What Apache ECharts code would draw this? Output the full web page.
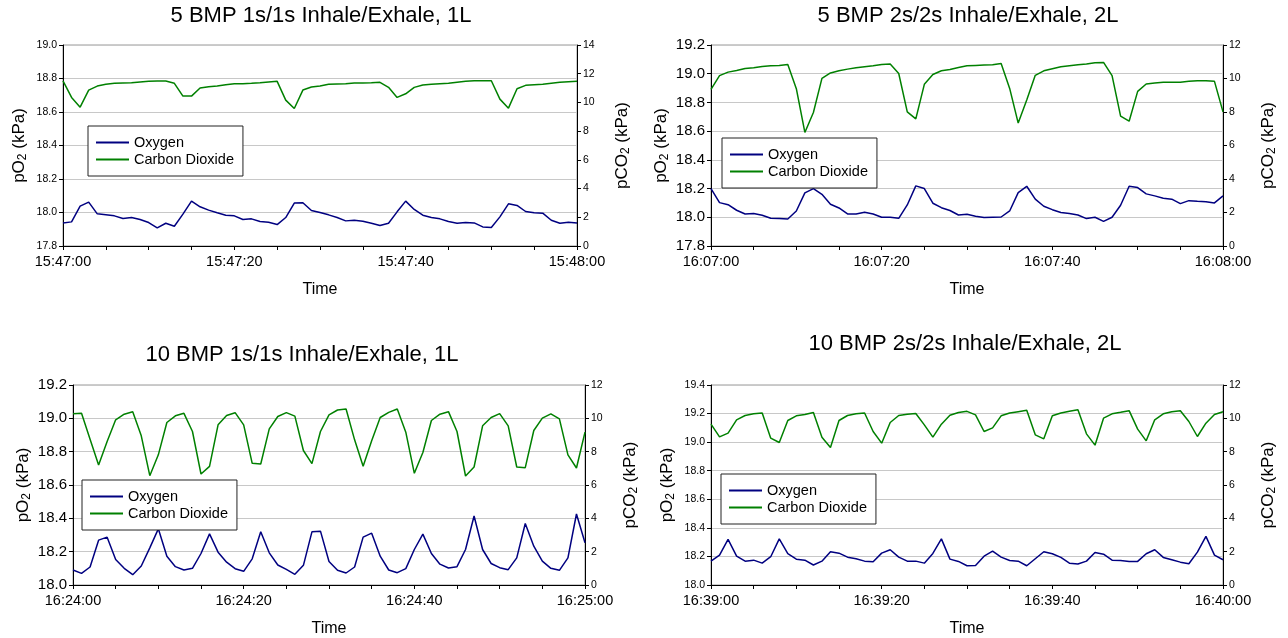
<!DOCTYPE html>
<html>
<head>
<meta charset="utf-8">
<script src="https://cdn.jsdelivr.net/npm/echarts@6/dist/echarts.min.js"></script>
<style>
  html, body { margin: 0; padding: 0; background: #fff; }
  #chart { width: 1288px; height: 638px; }
</style>
</head>
<body>
<div id="chart"></div>
<script>
// chart titles and x tick labels (every 20 s)
const titles = [
  '5 BMP 1s/1s Inhale/Exhale, 1L',
  '5 BMP 2s/2s Inhale/Exhale, 2L',
  '10 BMP 1s/1s Inhale/Exhale, 1L',
  '10 BMP 2s/2s Inhale/Exhale, 2L'
]
const times1 = ['15:47:00', '15:47:20', '15:47:40', '15:48:00']
const times2 = ['16:07:00', '16:07:20', '16:07:40', '16:08:00']
const times3 = ['16:24:00', '16:24:20', '16:24:40', '16:25:00']
const times4 = ['16:39:00', '16:39:20', '16:39:40', '16:40:00']

// pO2 (kPa), one sample per second
const oxygen1 = [17.938, 17.944, 18.038, 18.062, 17.992, 17.986, 17.98, 17.964, 17.97, 17.958, 17.94, 17.908, 17.936, 17.918, 17.99, 18.068, 18.034, 18.014, 17.998, 17.984, 17.98, 17.958, 17.962, 17.946, 17.942, 17.928, 17.97, 18.056, 18.058, 18.012, 18.0, 17.986, 17.97, 17.95, 17.954, 17.948, 17.936, 17.922, 17.936, 18.004, 18.068, 18.018, 17.984, 17.97, 17.962, 17.946, 17.936, 17.94, 17.938, 17.914, 17.91, 17.974, 18.052, 18.042, 18.006, 17.998, 17.996, 17.954, 17.936, 17.942, 17.938]
const oxygen2 = [18.2, 18.102, 18.088, 18.049, 18.023, 18.026, 18.014, 17.993, 17.991, 17.988, 18.044, 18.17, 18.2, 18.16, 18.091, 18.065, 18.023, 18.023, 18.035, 18.023, 18.0, 18.0, 17.993, 18.086, 18.219, 18.2, 18.098, 18.067, 18.047, 18.016, 18.021, 18.007, 17.998, 18.0, 18.002, 18.044, 18.172, 18.216, 18.126, 18.077, 18.053, 18.033, 18.026, 18.016, 17.991, 18.0, 17.972, 18.0, 18.084, 18.216, 18.207, 18.163, 18.149, 18.133, 18.126, 18.095, 18.116, 18.112, 18.109, 18.1, 18.149]
const oxygen3 = [18.09, 18.07, 18.108, 18.269, 18.287, 18.153, 18.1, 18.062, 18.114, 18.223, 18.337, 18.173, 18.11, 18.09, 18.1, 18.189, 18.307, 18.197, 18.137, 18.098, 18.082, 18.157, 18.319, 18.193, 18.12, 18.094, 18.064, 18.118, 18.319, 18.323, 18.141, 18.088, 18.072, 18.108, 18.287, 18.311, 18.173, 18.09, 18.074, 18.098, 18.213, 18.305, 18.189, 18.125, 18.102, 18.11, 18.213, 18.414, 18.213, 18.129, 18.104, 18.092, 18.163, 18.369, 18.233, 18.143, 18.1, 18.088, 18.163, 18.426, 18.253]
const oxygen4 = [18.167, 18.209, 18.319, 18.202, 18.167, 18.174, 18.153, 18.198, 18.323, 18.219, 18.181, 18.174, 18.14, 18.167, 18.233, 18.223, 18.195, 18.184, 18.167, 18.163, 18.223, 18.247, 18.195, 18.167, 18.167, 18.153, 18.221, 18.323, 18.181, 18.165, 18.135, 18.137, 18.202, 18.237, 18.195, 18.172, 18.167, 18.135, 18.184, 18.233, 18.219, 18.193, 18.153, 18.147, 18.167, 18.228, 18.216, 18.174, 18.172, 18.165, 18.165, 18.219, 18.247, 18.193, 18.177, 18.16, 18.149, 18.23, 18.34, 18.209, 18.177]

// pCO2 (kPa), one sample per second
const co2_1 = [11.5, 10.35, 9.67, 10.86, 11.14, 11.26, 11.33, 11.35, 11.37, 11.42, 11.47, 11.49, 11.49, 11.33, 10.44, 10.44, 11.0, 11.09, 11.15, 11.23, 11.3, 11.3, 11.33, 11.37, 11.42, 11.47, 10.16, 9.58, 10.86, 11.07, 11.15, 11.26, 11.28, 11.3, 11.35, 11.36, 11.37, 11.4, 11.05, 10.35, 10.6, 11.05, 11.21, 11.26, 11.3, 11.33, 11.4, 11.47, 11.51, 11.51, 11.51, 10.23, 9.6, 10.95, 11.19, 11.23, 11.26, 11.33, 11.4, 11.44, 11.47]
const co2_2 = [9.35, 10.17, 10.38, 10.48, 10.6, 10.64, 10.72, 10.76, 10.78, 10.84, 9.39, 6.78, 7.97, 10.01, 10.33, 10.46, 10.56, 10.64, 10.7, 10.76, 10.84, 10.86, 10.3, 8.01, 7.59, 9.65, 10.24, 10.46, 10.54, 10.66, 10.76, 10.78, 10.8, 10.82, 10.9, 9.41, 7.34, 8.71, 10.19, 10.46, 10.58, 10.7, 10.76, 10.82, 10.86, 10.94, 10.96, 10.17, 7.75, 7.45, 9.23, 9.67, 9.73, 9.77, 9.77, 9.77, 9.83, 9.87, 9.87, 9.83, 8.01]
const co2_3 = [10.27, 10.3, 8.75, 7.2, 8.61, 9.91, 10.25, 10.4, 8.95, 6.56, 7.81, 9.75, 10.15, 10.3, 9.21, 6.66, 7.12, 9.61, 10.17, 10.34, 9.61, 7.3, 7.26, 9.37, 10.11, 10.34, 10.13, 8.07, 7.28, 9.21, 10.21, 10.5, 10.56, 8.71, 7.12, 8.65, 10.05, 10.36, 10.56, 9.17, 6.7, 7.95, 9.87, 10.25, 10.4, 9.21, 6.54, 7.08, 9.55, 10.05, 10.28, 9.55, 7.08, 7.04, 9.27, 10.01, 10.27, 9.97, 7.81, 7.02, 9.17]
const co2_4 = [9.65, 8.89, 9.11, 9.91, 10.17, 10.27, 10.32, 8.81, 8.55, 9.87, 10.15, 10.23, 10.35, 8.87, 8.25, 9.87, 10.17, 10.27, 10.32, 9.21, 8.51, 9.75, 10.17, 10.25, 10.29, 9.61, 8.87, 9.65, 10.19, 10.35, 10.42, 10.21, 9.21, 9.43, 10.15, 10.32, 10.4, 10.48, 9.01, 8.77, 10.15, 10.32, 10.42, 10.52, 9.07, 8.39, 10.01, 10.27, 10.36, 10.46, 9.35, 8.65, 9.91, 10.27, 10.4, 10.46, 9.81, 8.91, 9.71, 10.23, 10.4]

// axis ranges [min, max] for pO2 / pCO2
const o2Ranges = [[17.8, 19.0], [17.8, 19.2], [18.0, 19.2], [18.0, 19.4]]
const co2Ranges = [[0, 14], [0, 12], [0, 12], [0, 12]]

const FONT = 'Liberation Sans, Arial, sans-serif'
const BLUE = '#000080'
const GREEN = '#008000'

const panels = [
  { times: times1, o2: oxygen1, co2: co2_1, grid: { left: 63, top: 45, width: 514, height: 201 }, title: [321, 5], legend: [88, 126], leftFont: 10.5 },
  { times: times2, o2: oxygen2, co2: co2_2, grid: { left: 711, top: 45, width: 512, height: 201 }, title: [968, 5], legend: [722, 138], leftFont: 15 },
  { times: times3, o2: oxygen3, co2: co2_3, grid: { left: 73, top: 385, width: 512, height: 201 }, title: [302, 344], legend: [82, 480], leftFont: 15 },
  { times: times4, o2: oxygen4, co2: co2_4, grid: { left: 711, top: 385, width: 512, height: 201 }, title: [965, 333], legend: [721, 474], leftFont: 10.5 }
]

function pairs (arr) {
  return arr.map((v, i) => [i, v])
}

const axisNameRich = {
  m: { fontSize: 17, fontFamily: FONT, color: '#000' },
  s: { fontSize: 12, fontFamily: FONT, color: '#000', padding: [8, 0, 0, 0] }
}

const option = {
  animation: false,
  backgroundColor: '#fff',
  title: [],
  legend: [],
  grid: [],
  xAxis: [],
  yAxis: [],
  series: []
}

panels.forEach((p, i) => {
  option.title.push({
    text: titles[i],
    left: p.title[0],
    top: p.title[1],
    textAlign: 'center',
    padding: 0,
    textStyle: { fontFamily: FONT, fontSize: 22, fontWeight: 'normal', color: '#000' }
  })
  option.grid.push(Object.assign({ show: true, borderColor: '#999', borderWidth: 1 }, p.grid))
  option.legend.push({
    orient: 'vertical',
    left: p.legend[0],
    top: p.legend[1],
    data: ['Oxygen', 'Carbon Dioxide'],
    icon: 'rect',
    backgroundColor: '#fff',
    borderColor: '#222',
    borderWidth: 1,
    padding: [8, 9, 8, 8],
    itemGap: 0,
    itemWidth: 33,
    itemHeight: 2,
    selectedMode: false,
    textStyle: { fontFamily: FONT, fontSize: 14.5, color: '#000', lineHeight: 17 }
  })
  option.xAxis.push({
    type: 'value',
    gridIndex: i,
    min: 0,
    max: 60,
    interval: 5,
    name: 'Time',
    nameLocation: 'middle',
    nameGap: 36,
    nameTextStyle: { fontFamily: FONT, fontSize: 16, color: '#000' },
    axisLine: { lineStyle: { color: '#000' } },
    axisTick: { length: 4, lineStyle: { color: '#000' } },
    splitLine: { show: false },
    axisLabel: {
      fontFamily: FONT,
      fontSize: 14.5,
      color: '#000',
      margin: 8,
      formatter: v => (v % 20 === 0 ? p.times[v / 20] : '')
    }
  })
  option.yAxis.push({
    type: 'value',
    gridIndex: i,
    position: 'left',
    min: o2Ranges[i][0],
    max: o2Ranges[i][1],
    interval: 0.2,
    name: '{m|pO}{s|2}{m| (kPa)}',
    nameLocation: 'middle',
    nameRotate: 90,
    nameGap: p.leftFont > 12 ? 40 : 34,
    nameTextStyle: { rich: axisNameRich },
    axisLine: { show: true, lineStyle: { color: '#000' } },
    axisTick: { show: true, length: 4, lineStyle: { color: '#000' } },
    splitLine: { show: true, lineStyle: { color: '#c8c8c8' } },
    axisLabel: {
      fontFamily: FONT,
      fontSize: p.leftFont,
      color: '#000',
      margin: 6,
      formatter: v => v.toFixed(1)
    }
  })
  option.yAxis.push({
    type: 'value',
    gridIndex: i,
    position: 'right',
    min: co2Ranges[i][0],
    max: co2Ranges[i][1],
    interval: 2,
    name: '{m|pCO}{s|2}{m| (kPa)}',
    nameLocation: 'middle',
    nameRotate: 90,
    nameGap: 35,
    nameTextStyle: { rich: axisNameRich },
    axisLine: { show: true, lineStyle: { color: '#000' } },
    axisTick: { show: true, length: 4, lineStyle: { color: '#000' } },
    splitLine: { show: false },
    axisLabel: { fontFamily: FONT, fontSize: 10.5, color: '#000', margin: 6 }
  })
  option.series.push({
    name: 'Oxygen',
    type: 'line',
    xAxisIndex: i,
    yAxisIndex: 2 * i,
    data: pairs(p.o2),
    symbol: 'none',
    showSymbol: false,
    lineStyle: { color: BLUE, width: 1.5 },
    itemStyle: { color: BLUE }
  })
  option.series.push({
    name: 'Carbon Dioxide',
    type: 'line',
    xAxisIndex: i,
    yAxisIndex: 2 * i + 1,
    data: pairs(p.co2),
    symbol: 'none',
    showSymbol: false,
    lineStyle: { color: GREEN, width: 1.5 },
    itemStyle: { color: GREEN }
  })
})

const chart = echarts.init(document.getElementById('chart'))
chart.setOption(option)
</script>
</body>
</html>
